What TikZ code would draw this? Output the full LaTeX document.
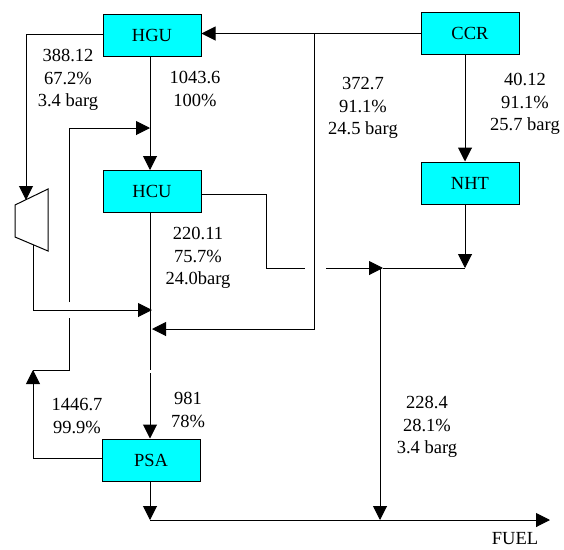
\documentclass[tikz,border=0pt]{standalone}
\usepackage{fontspec}
\setmainfont{Liberation Serif}
\usetikzlibrary{arrows.meta}
\definecolor{boxcyan}{RGB}{0,255,255}
\begin{document}
\begin{tikzpicture}[x=1pt,y=-1pt, line width=1pt,
 box/.style={draw=black, fill=boxcyan, minimum width=98pt, minimum height=42pt, inner sep=0pt, font=\rmfamily\fontsize{18.5}{20}\selectfont},
 lbl/.style={align=center, font=\rmfamily\fontsize{18.5}{22.5}\selectfont, inner sep=0pt},
 arr/.style={-{Triangle[length=14pt,width=14pt]}}]
\useasboundingbox (0,0) rectangle (564,549);
% units
\node[box] (HGU) at (152,35) {HGU};
\node[box] (CCR) at (470,33.5) {CCR};
\node[box] (NHT) at (470,183) {NHT};
\node[box] (HCU) at (152,191.5) {HCU};
\node[box] (PSA) at (151,460) {PSA};
% compressor
\draw (15,205) -- (48,189) -- (48,251) -- (15,237) -- cycle;
\coordinate (cin) at (26,200);
\coordinate (cout) at (33,245);
% helper coordinates
\coordinate (mx) at (150,0);
\coordinate (cx) at (465,0);
\coordinate (j1) at (314,33.5);
\coordinate (j2) at (383,268);
\coordinate (f0) at (150,520);
\coordinate (fend) at (550,520);
% CCR to HGU and branch
\draw[arr] (CCR.west) -- (CCR.west -| HGU.east);
\draw[arr] (j1) -- (314,329) -- (152,329);
% HGU to HCU
\draw[arr] (HGU.south -| mx) -- (HCU.north -| mx);
% HGU off-gas to compressor
\draw[arr] (HGU.west |- 0,34) -- (26,34) -- (cin);
\draw[arr] (cout) -- (33,310) -- (152,310);
% PSA recycle
\draw[arr] (PSA.west |- 0,458) -- (33,458) -- (33,370);
\draw (33,370) -- (69,370) -- (69,318);
\draw[arr] (69,302) -- (69,128) -- (150,128);
% HCU to PSA
\draw (HCU.south -| mx) -- (150,370);
\draw[arr] (150,373) -- (PSA.north -| mx);
% CCR to NHT
\draw[arr] (CCR.south -| cx) -- (NHT.north -| cx);
% HCU off-gas
\draw (HCU.east |- 0,194) -- (266,194) -- (266,268) -- (305,268);
\draw[arr] (326,268) -- (j2);
\draw (j2) -- (465,268);
\draw[arr] (NHT.south -| cx) -- (465,268);
\draw[arr] (380,268) -- (380,520);
% PSA tail gas to fuel
\draw[arr] (PSA.south -| mx) -- (f0);
\draw[arr] (f0) -- (fend);
% labels
\node[lbl] (l1) at (68,80) {388.12\\67.2\%\\3.4 barg};
\node[lbl] (l2) at (195,89) {1043.6\\100\%};
\node[lbl] (l3) at (198,258) {220.11\\75.7\%\\24.0barg};
\node[lbl] (l4) at (363,108) {372.7\\91.1\%\\24.5 barg};
\node[lbl] (l5) at (525,104) {40.12\\91.1\%\\25.7 barg};
\node[lbl] (l6) at (188,410) {981\\78\%};
\node[lbl] (l7) at (77,416) {1446.7\\99.9\%};
\node[lbl] (l8) at (427,427) {228.4\\28.1\%\\3.4 barg};
\node[lbl] (l9) at (515,539) {FUEL};
\end{tikzpicture}
\end{document}
